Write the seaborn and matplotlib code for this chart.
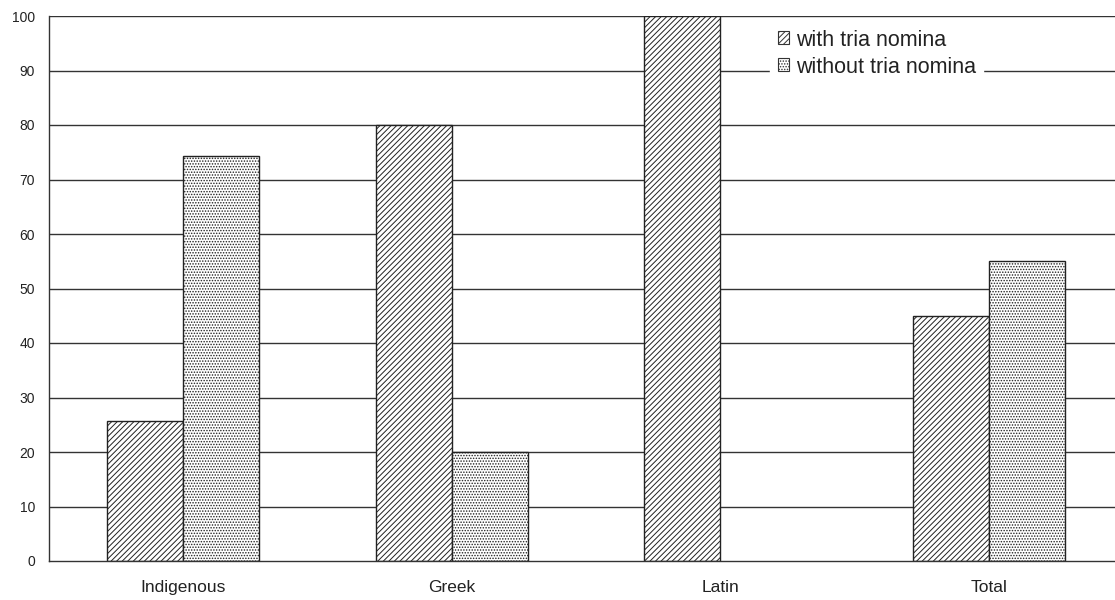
import matplotlib
matplotlib.use("Agg")
import matplotlib.pyplot as plt
import seaborn as sns
import pandas as pd
from matplotlib.patches import Patch

categories = ["Indigenous", "Greek", "Latin", "Total"]
with_tria = [25.7, 80, 100, 45]
without_tria = [74.3, 20, 0, 55]
series_names = ["with tria nomina", "without tria nomina"]
y_ticks = list(range(0, 101, 10))

df = pd.DataFrame({
    "category": categories * 2,
    "share": with_tria + without_tria,
    "group": [series_names[0]] * 4 + [series_names[1]] * 4,
})

sns.set_style("white")
plt.rcParams["font.family"] = ["Liberation Sans", "DejaVu Sans"]
plt.rcParams["hatch.linewidth"] = 0.7

fig = plt.figure(figsize=(11.15, 6.0), dpi=100)
ax = fig.add_axes([49 / 1115, 39 / 600, (1123 - 49) / 1115, (561 - 16) / 600])

ax.set_axisbelow(True)
for y in y_ticks[1:]:
    ax.axhline(y, color="#333333", lw=1.0, zorder=0)

sns.barplot(data=df, x="category", y="share", hue="group", order=categories,
            hue_order=series_names, width=0.565, ax=ax, legend=False,
            palette=["white", "white"], edgecolor="black", linewidth=1.0,
            saturation=1)

hatches = ["//////", "......"]
n = len(categories)
for i, bar in enumerate(ax.patches[:2 * n]):
    bar.set_hatch(hatches[i // n])
    bar.set_edgecolor("#222222")
    bar.set_zorder(2)
    if bar.get_height() == 0:
        bar.set_visible(False)

ax.set_xlim(-0.5, 3.5)
ax.set_ylim(0, 100)
ax.set_yticks(y_ticks)
ax.set_yticklabels([str(v) for v in y_ticks], fontsize=10, color="#222222")
ax.set_xticks(range(n))
ax.set_xticklabels(categories, fontsize=12.5, color="#222222")
ax.set_xticks([0.5, 1.5, 2.5], minor=True)
ax.tick_params(axis="x", which="major", length=0, pad=14)
ax.tick_params(axis="x", which="minor", length=5, width=1, color="#333333", direction="out")
ax.tick_params(axis="y", length=6, width=1, color="#333333", direction="out", pad=4)
ax.set_xlabel("")
ax.set_ylabel("")

for side in ["top", "right"]:
    ax.spines[side].set_visible(False)
for side in ["left", "bottom"]:
    ax.spines[side].set_color("#333333")
    ax.spines[side].set_linewidth(1.0)
    ax.spines[side].set_zorder(3)

handles = [Patch(facecolor="white", edgecolor="#333333", hatch=h, label=s, linewidth=0.8)
           for h, s in zip(hatches, series_names)]
leg = ax.legend(handles=handles, loc="upper left",
                bbox_to_anchor=(770 / 1115, 1 - 22 / 600), bbox_transform=fig.transFigure,
                borderaxespad=0, frameon=True, fontsize=15.5, handlelength=0.55,
                handleheight=0.55, handletextpad=0.3, labelspacing=0.28, borderpad=0.35,
                fancybox=False, edgecolor="white", framealpha=1)
for t in leg.get_texts():
    t.set_color("#222222")
leg.set_zorder(5)

fig.savefig("out.png", dpi=100)
